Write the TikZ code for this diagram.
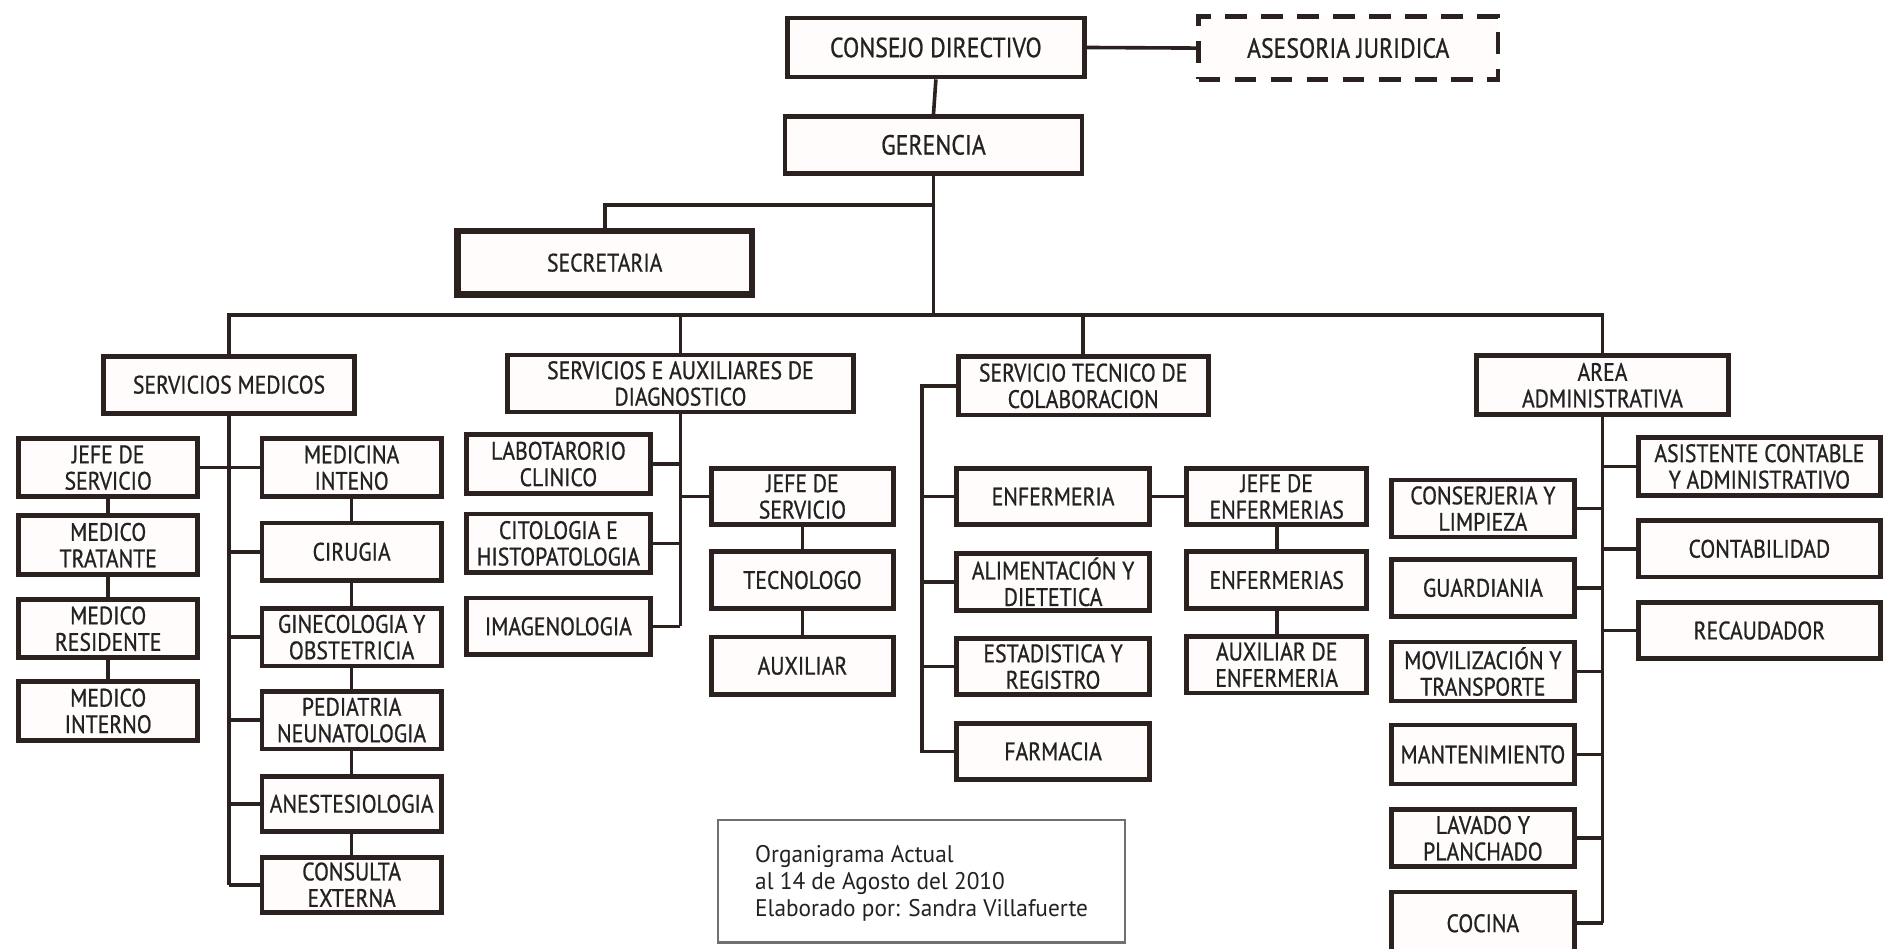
\documentclass[tikz,border=0pt]{standalone}
\usepackage{fontspec}
\setmainfont{PT Sans}
\newfontfamily\boxfont[FakeStretch=0.86, FakeBold=0.8]{PT Sans}
\newfontfamily\notefont[FakeStretch=0.97]{PT Sans}
\definecolor{ink}{HTML}{2B211E}
\definecolor{boxfill}{HTML}{FFFCFB}
\definecolor{txt}{HTML}{222222}
\definecolor{notegray}{HTML}{707070}

\tikzset{
  box/.style={draw=ink, line width=4pt, fill=boxfill, text=txt, inner sep=0pt,
    align=center, font=\boxfont\fontsize{21}{22}\selectfont},
  big/.style={font=\boxfont\fontsize{23}{24}\selectfont},
  wh/.style 2 args={minimum width=#1pt, minimum height=#2pt},
  heavybox/.style={box, line width=5.5pt},
  dashbox/.style={box, line width=4pt, dash pattern=on 18pt off 12pt},
  link/.style={draw=ink, line width=3pt},
  notebox/.style={draw=notegray, line width=2pt},
  notetext/.style={inner sep=0pt, align=left, text=txt,
    font=\notefont\fontsize{20}{22.6}\selectfont}
}

\begin{document}
\begin{tikzpicture}[x=1pt, y=-1pt]
\useasboundingbox[fill=white] (0,0) rectangle (1568,789);

% --- top management ---
\node[box, big, wh={247}{49}] (cd) at (778.5,39.5) {CONSEJO DIRECTIVO};
\node[dashbox, big, wh={249}{52}] (aj) at (1121.5,40) {ASESORIA JURIDICA};
\node[box, big, wh={247}{47}] (ger) at (776.5,120.5) {GERENCIA};
\node[heavybox, wh={245}{53}] (sec) at (503,218.5) {SECRETARIA};

% --- departments ---
\node[box, wh={209}{47.5}] (sm) at (190.5,320) {SERVICIOS MEDICOS};
\node[box, wh={288}{47.5}] (sa) at (566,319) {SERVICIOS E AUXILIARES DE\\DIAGNOSTICO};
\node[box, wh={208}{48.5}] (st) at (901,321) {SERVICIO TECNICO DE\\COLABORACION};
\node[box, wh={210}{49}] (aa) at (1333,320.5) {AREA\\ADMINISTRATIVA};

% --- servicios medicos ---
\node[box, wh={149}{48}] (js) at (90,389) {JEFE DE\\SERVICIO};
\node[box, wh={149}{49}] (mt) at (90,453.5) {MEDICO\\TRATANTE};
\node[box, wh={149}{48}] (mr) at (90,523) {MEDICO\\RESIDENTE};
\node[box, wh={149}{49}] (mi) at (90,591.4) {MEDICO\\INTERNO};
\node[box, wh={149}{48}] (min) at (292.5,389) {MEDICINA\\INTENO};
\node[box, wh={149}{48}] (cir) at (292.5,459) {CIRUGIA};
\node[box, wh={149}{48}] (gin) at (292.5,530) {GINECOLOGIA Y\\OBSTETRICIA};
\node[box, wh={149}{48}] (ped) at (292.5,599) {PEDIATRIA\\NEUNATOLOGIA};
\node[box, wh={149}{46}] (ane) at (292.5,668.6) {ANESTESIOLOGIA};
\node[box, wh={149}{46}] (con) at (292.5,736) {CONSULTA\\EXTERNA};

% --- servicios auxiliares de diagnostico ---
\node[box, wh={153}{48.5}] (lab) at (464.5,386) {LABOTARORIO\\CLINICO};
\node[box, wh={153}{49}] (cit) at (464.5,452) {CITOLOGIA E\\HISTOPATOLOGIA};
\node[box, wh={153}{47}] (img) at (464.5,521) {IMAGENOLOGIA};
\node[box, wh={151}{47}] (jsd) at (667.5,413) {JEFE DE\\SERVICIO};
\node[box, wh={151}{47}] (tec) at (667.5,482.5) {TECNOLOGO};
\node[box, wh={151}{48}] (aux) at (667.5,553.8) {AUXILIAR};

% --- servicio tecnico de colaboracion ---
\node[box, wh={161}{46.5}] (enf) at (876,413) {ENFERMERIA};
\node[box, wh={161}{47}] (ali) at (876,484) {ALIMENTACIÓN Y\\DIETETICA};
\node[box, wh={161}{47}] (est) at (876,554.5) {ESTADISTICA Y\\REGISTRO};
\node[box, wh={161}{47}] (far) at (876,625) {FARMACIA};
\node[box, wh={150}{47}] (jef) at (1062,413) {JEFE DE\\ENFERMERIAS};
\node[box, wh={150}{47}] (enfs) at (1062,482.5) {ENFERMERIAS};
\node[box, wh={150}{47}] (auxe) at (1062,553) {AUXILIAR DE\\ENFERMERIA};

% --- area administrativa ---
\node[box, wh={152}{47.5}] (cons) at (1233.5,423) {CONSERJERIA Y\\LIMPIEZA};
\node[box, wh={152}{47.5}] (gua) at (1233.5,489) {GUARDIANIA};
\node[box, wh={152}{49}] (mov) at (1233.5,558.6) {MOVILIZACIÓN Y\\TRANSPORTE};
\node[box, wh={152}{49}] (man) at (1233.5,627.6) {MANTENIMIENTO};
\node[box, wh={152}{47.5}] (lav) at (1233.5,697.3) {LAVADO Y\\PLANCHADO};
\node[box, wh={152}{52}] (coc) at (1233.5,768) {COCINA};
\node[box, wh={201}{48}] (asi) at (1463.5,388) {ASISTENTE CONTABLE\\Y ADMINISTRATIVO};
\node[box, wh={201}{47}] (cont) at (1463.5,456.5) {CONTABILIDAD};
\node[box, wh={201}{47}] (rec) at (1463.5,524.5) {RECAUDADOR};

% --- note ---
\node[notebox, wh={339}{102}] (note) at (766.5,733) {};
\node[notetext, anchor=west] (notetxt) at (628,735)
  {Organigrama Actual\\al 14 de Agosto del 2010\\Elaborado por: Sandra Villafuerte};

% --- junction points ---
\coordinate (bus) at (776,262);
\coordinate (secj) at (776,170.5);
\coordinate (stl) at (767,321);

% --- connectors: top ---
\draw[link] (cd.east) -- (aj.west);
\draw[link] (cd.south) -- (ger.north);
\draw[link] (ger.south) -- (ger.south |- bus);
\draw[link] (secj) -| (sec.north);
\draw[link] (sm.north) -- (sm.north |- bus) -- (aa.north |- bus) -- (aa.north);
\draw[link] (sa.north |- bus) -- (sa.north);
\draw[link] (st.north |- bus) -- (st.north);

% --- connectors: servicios medicos ---
\draw[link] (sm.south) -- (sm.south |- con.west);
\draw[link] (js.east) -- (min.west);
\foreach \n in {cir,gin,ped,ane,con}
  \draw[link] (sm.south |- \n.west) -- (\n.west);
\draw[link] (js.south) -- (mt.north);
\draw[link] (mt.south) -- (mr.north);
\draw[link] (mr.south) -- (mi.north);
\draw[link] (min.south) -- (cir.north);
\draw[link] (cir.south) -- (gin.north);
\draw[link] (gin.south) -- (ped.north);
\draw[link] (ped.south) -- (ane.north);
\draw[link] (ane.south) -- (con.north);

% --- connectors: servicios auxiliares ---
\draw[link] (sa.south) -- (sa.south |- img.east);
\foreach \n in {lab,cit,img}
  \draw[link] (sa.south |- \n.east) -- (\n.east);
\draw[link] (sa.south |- jsd.west) -- (jsd.west);
\draw[link] (jsd.south) -- (tec.north);
\draw[link] (tec.south) -- (aux.north);

% --- connectors: servicio tecnico ---
\draw[link] (st.west) -- (stl |- st.west) -- (stl |- far.west) -- (far.west);
\foreach \n in {enf,ali,est}
  \draw[link] (stl |- \n.west) -- (\n.west);
\draw[link] (enf.east) -- (jef.west);
\draw[link] (jef.south) -- (enfs.north);
\draw[link] (enfs.south) -- (auxe.north);

% --- connectors: area administrativa ---
\draw[link] (aa.south) -- (aa.south |- coc.east);
\foreach \n in {cons,gua,mov,man,lav,coc}
  \draw[link] (aa.south |- \n.east) -- (\n.east);
\foreach \n in {asi,cont,rec}
  \draw[link] (aa.south |- \n.west) -- (\n.west);
\end{tikzpicture}
\end{document}
